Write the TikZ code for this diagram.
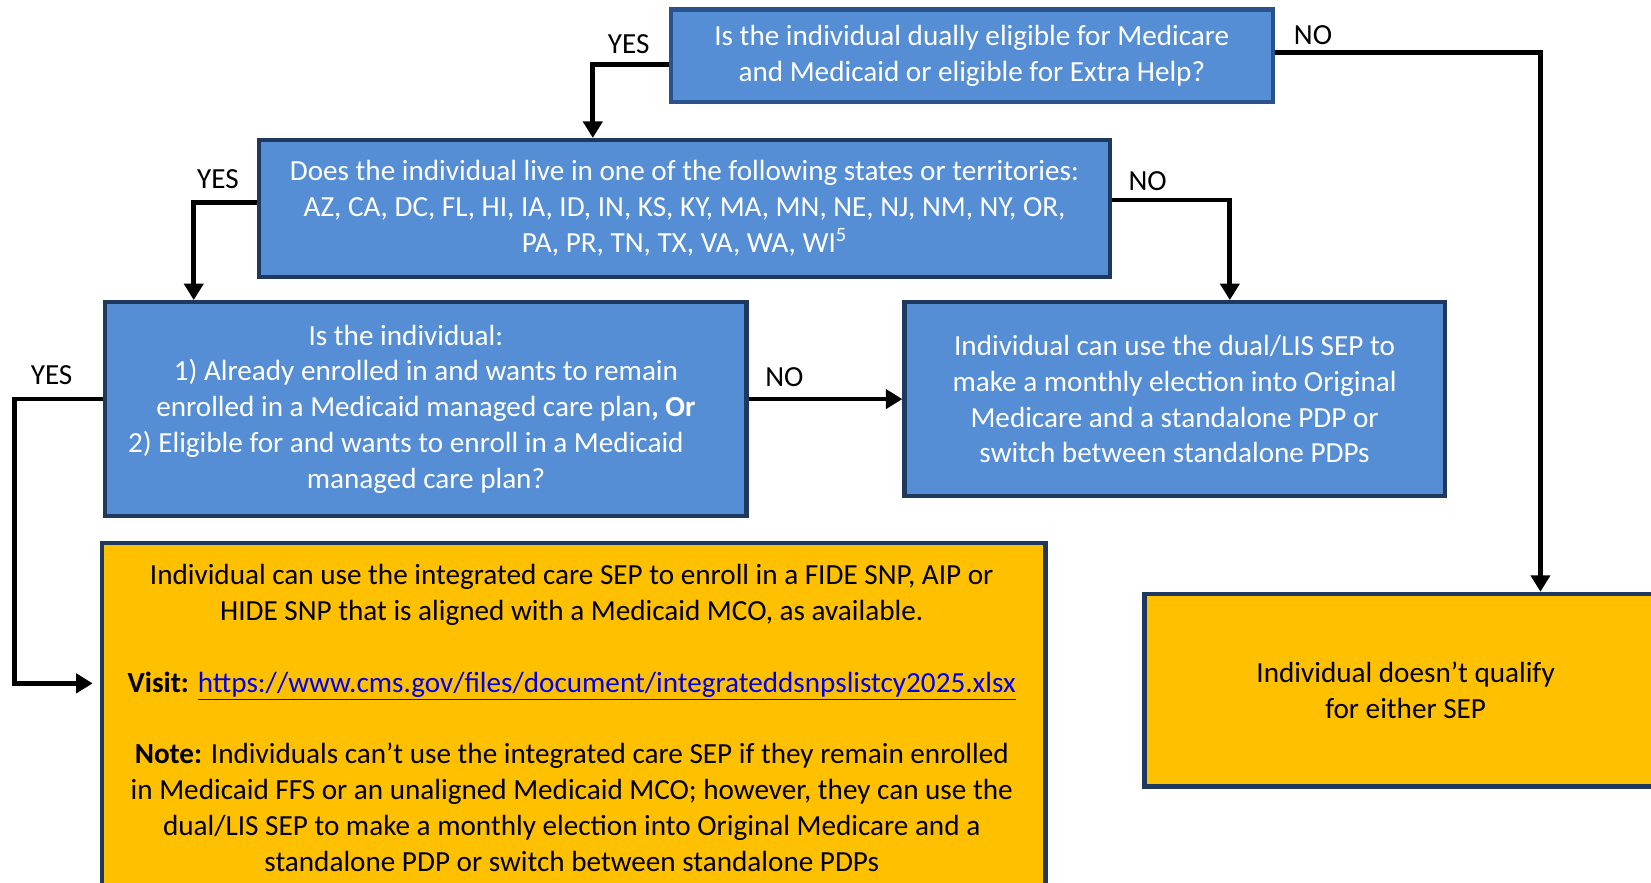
\documentclass[tikz,border=0pt]{standalone}
\usepackage{fontspec}
\setmainfont{Carlito}
\usepackage{tikz}
\usetikzlibrary{arrows.meta,shadows}

\definecolor{boxblue}{RGB}{85,142,213}
\definecolor{boxedge}{RGB}{31,56,94}
\definecolor{topedge}{RGB}{41,82,143}
\definecolor{boxorange}{RGB}{255,192,0}
\definecolor{linkblue}{RGB}{0,0,238}
\newcommand{\pxl}{0.021059cm}

\tikzset{
  bluebox/.style={draw=boxedge,line width=0.085cm,fill=boxblue,text=white,align=center,
    anchor=north west,inner sep=0pt,drop shadow={opacity=0.25,shadow xshift=0.6pt,shadow yshift=-0.9pt}},
  orangebox/.style={bluebox,fill=boxorange},
  boxtext/.style={align=center,inner sep=0pt},
  lbl/.style={inner sep=0pt,font=\fontsize{16.6}{20.4}\selectfont},
  arr/.style={line width=0.095cm,-{Triangle[width=0.38cm,length=0.33cm]}}
}

\begin{document}
\begin{tikzpicture}[x=\pxl,y=-\pxl,font=\fontsize{16.6}{20.4}\selectfont]
\path[use as bounding box,clip] (0,0) rectangle (1568,838.6);

% question boxes
\node[bluebox,draw=topedge,minimum width=572*\pxl,minimum height=88*\pxl] (q1) at (635,7)
  {Is the individual dually eligible for Medicare\\and Medicaid or eligible for Extra Help?};
\node[bluebox,minimum width=808*\pxl,minimum height=130*\pxl] (q2) at (244,131)
  {Does the individual live in one of the following states or territories:\\
   AZ, CA, DC, FL, HI, IA, ID, IN, KS, KY, MA, MN, NE, NJ, NM, NY, OR,\\
   PA, PR, TN, TX, VA, WA, WI\textsuperscript{5}};
\node[bluebox,minimum width=609*\pxl,minimum height=203*\pxl] (q3) at (98,285)
  {Is the individual:\rule{0.8cm}{0pt}\\
   1) Already enrolled in and wants to remain\\
   enrolled in a Medicaid managed care plan\textbf{, Or}\\
   2) Eligible for and wants to enroll in a Medicaid\rule{0.8cm}{0pt}\\
   managed care plan?};
\node[bluebox,minimum width=513*\pxl,minimum height=184*\pxl] (q4) at (857,285)
  {Individual can use the dual/LIS SEP to\\make a monthly election into Original\\
   Medicare and a standalone PDP or\\switch between standalone PDPs};

% result boxes
\node[orangebox,minimum width=896*\pxl,minimum height=420*\pxl] (q5) at (95,514) {};
\node[boxtext] (q5text) at (543,682)
  {Individual can use the integrated care SEP to enroll in a FIDE SNP, AIP or\\
   HIDE SNP that is aligned with a Medicaid MCO, as available.\\[20.4pt]
   \textbf{Visit:} {\color{linkblue}\underline{https://www.cms.gov/files/document/integrateddsnpslistcy2025.xlsx}}\\[20.4pt]
   \textbf{Note:} Individuals can’t use the integrated care SEP if they remain enrolled\\
   in Medicaid FFS or an unaligned Medicaid MCO; however, they can use the\\
   dual/LIS SEP to make a monthly election into Original Medicare and a\\
   standalone PDP or switch between standalone PDPs};
\node[orangebox,minimum width=620*\pxl,minimum height=183*\pxl] (q6) at (1085,562) {};
\node[boxtext] (q6text) at (1335,656) {Individual doesn’t qualify\\for either SEP};

% connectors
\draw[arr] ([yshift=-8*\pxl]q1.west) -| ([xshift=319*\pxl]q2.north west);
\draw[arr] ([yshift=3*\pxl]q1.east) -| ([xshift=378*\pxl]q6.north west);
\draw[arr] ([yshift=6*\pxl]q2.west) -| ([xshift=86*\pxl]q3.north west);
\draw[arr] ([yshift=8*\pxl]q2.east) -| ([xshift=311*\pxl]q4.north west);
\draw[arr] (q3.east |- q4.west) -- (q4.west);
\coordinate (yesturn) at (14,649);
\draw[arr,shorten >=7*\pxl] (q3.west |- q4.west) -| (yesturn) -- (yesturn -| q5.west);

% labels
\node[lbl] (yes1) at (597,42) {YES};
\node[lbl] (no1) at (1247,33) {NO};
\node[lbl] (yes2) at (207,170) {YES};
\node[lbl] (no2) at (1090,172) {NO};
\node[lbl] (no3) at (745,358) {NO};
\node[lbl] (yes3) at (49,356) {YES};
\end{tikzpicture}
\end{document}
